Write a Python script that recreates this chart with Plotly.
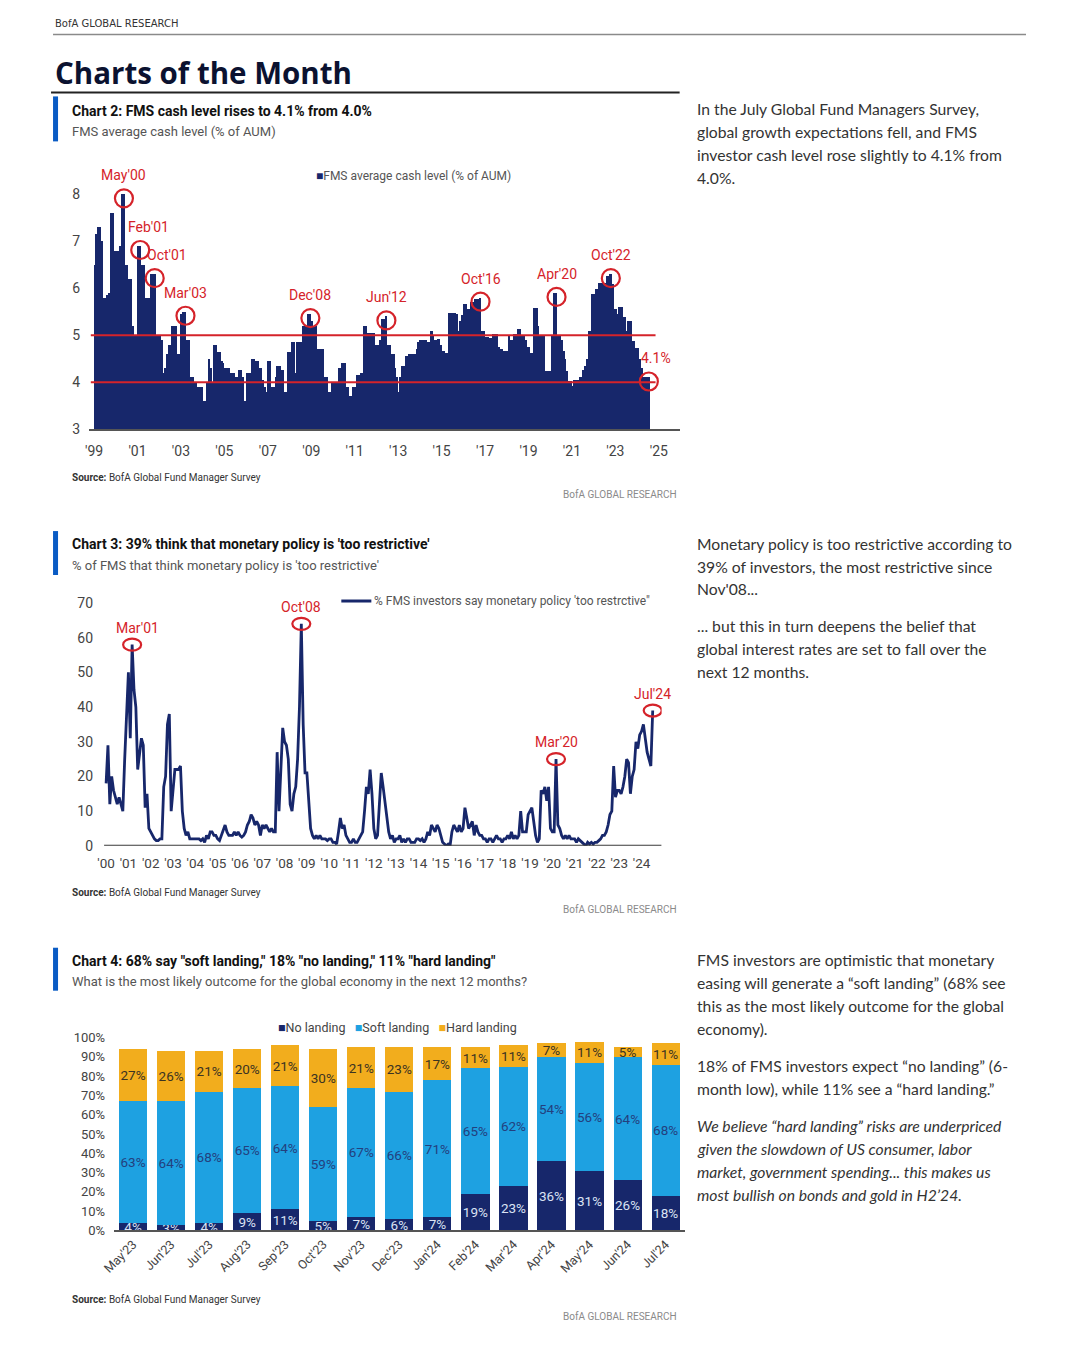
import plotly.graph_objects as go

W, H = 1080, 1354

# ---------------- Chart 2 data: FMS average cash level (% of AUM), monthly Jan'99 - Jul'24
cash_1999 = [6.5, 7.15, 7.3, 7.3, 7.0, 5.8, 5.8, 5.85, 5.9, 7.6, 7.6, 6.8]
cash_2000 = [6.8, 6.8, 6.9, 8.0, 8.0, 6.5, 6.5, 6.2, 6.2, 5.2, 5.0, 5.0]
cash_2001 = [6.9, 6.9, 6.5, 6.5, 5.8, 5.8, 5.8, 6.3, 6.3, 6.3, 5.0, 5.0]
cash_2002 = [5.0, 4.9, 4.2, 4.3, 4.6, 4.8, 4.8, 5.2, 5.2, 5.2, 4.6, 4.6]
cash_2003 = [5.45, 5.5, 5.5, 4.9, 4.9, 4.1, 4.1, 4.0, 4.0, 3.9, 3.9, 3.9]
cash_2004 = [3.6, 3.6, 4.0, 4.5, 4.3, 4.0, 4.8, 4.8, 4.65, 4.65, 4.45, 4.4]
cash_2005 = [4.3, 4.3, 4.3, 4.2, 4.2, 4.2, 4.1, 4.1, 4.25, 4.25, 4.1, 3.6]
cash_2006 = [4.2, 4.2, 4.2, 4.5, 4.5, 4.45, 4.45, 4.3, 4.3, 4.05, 3.9, 3.8]
cash_2007 = [4.45, 4.45, 3.9, 3.9, 4.1, 4.35, 4.35, 4.25, 4.25, 3.8, 3.8, 4.65]
cash_2008 = [4.65, 4.85, 4.85, 4.2, 4.85, 4.85, 4.85, 5.2, 5.2, 5.2, 5.45, 5.45]
cash_2009 = [5.3, 5.2, 5.2, 4.7, 4.7, 4.7, 4.7, 4.1, 4.1, 3.8, 3.8, 4.0]
cash_2010 = [4.0, 4.0, 4.0, 4.3, 4.3, 4.4, 4.4, 3.9, 3.9, 3.7, 3.7, 3.9]
cash_2011 = [3.9, 4.15, 4.15, 4.2, 4.2, 5.2, 5.2, 5.05, 5.05, 5.05, 5.05, 4.8]
cash_2012 = [4.8, 4.8, 4.9, 5.35, 5.35, 5.4, 4.8, 4.8, 4.6, 4.6, 4.3, 4.1]
cash_2013 = [3.8, 4.1, 4.35, 4.35, 4.55, 4.55, 4.6, 4.6, 4.6, 4.6, 4.7, 4.85]
cash_2014 = [4.9, 4.9, 4.9, 4.9, 4.85, 4.85, 5.1, 5.0, 4.9, 4.9, 4.93, 4.8]
cash_2015 = [4.66, 4.66, 4.63, 4.63, 5.47, 5.47, 5.47, 5.47, 5.45, 5.1, 5.3, 5.43]
cash_2016 = [5.66, 5.66, 5.55, 5.55, 5.7, 5.7, 5.77, 5.77, 5.77, 5.8, 5.1, 5.08]
cash_2017 = [4.96, 4.96, 4.94, 4.94, 5.03, 5.03, 5.03, 4.74, 4.7, 4.7, 4.66, 4.66]
cash_2018 = [4.66, 5.0, 4.9, 4.9, 5.03, 5.03, 5.13, 5.13, 5.0, 5.0, 4.9, 4.74]
cash_2019 = [4.74, 4.63, 4.63, 5.58, 5.58, 5.2, 5.0, 5.0, 5.0, 4.23, 4.23, 4.23]
cash_2020 = [4.23, 5.0, 5.9, 5.9, 5.0, 5.0, 4.9, 4.66, 4.5, 4.23, 4.02, 4.02]
cash_2021 = [3.92, 4.05, 4.05, 4.05, 4.12, 4.12, 4.25, 4.35, 4.5, 5.1, 5.1, 5.87]
cash_2022 = [5.87, 5.98, 5.98, 6.12, 6.12, 6.12, 6.12, 6.26, 6.26, 6.3, 6.1, 5.55]
cash_2023 = [5.55, 5.45, 5.6, 5.6, 5.38, 5.38, 5.1, 5.3, 5.3, 4.87, 4.87, 4.72]
cash_2024 = [4.72, 4.5, 4.3, 4.1, 4.1, 4.12, 4.1]
cash_by_year = [cash_1999, cash_2000, cash_2001, cash_2002, cash_2003, cash_2004,
                cash_2005, cash_2006, cash_2007, cash_2008, cash_2009, cash_2010,
                cash_2011, cash_2012, cash_2013, cash_2014, cash_2015, cash_2016,
                cash_2017, cash_2018, cash_2019, cash_2020, cash_2021, cash_2022,
                cash_2023, cash_2024]
cash_first_year = 1999
c2_ticks = list(range(1999, 2026, 2))
c2_ticktext = ["'99", "'01", "'03", "'05", "'07", "'09", "'11", "'13", "'15", "'17",
               "'19", "'21", "'23", "'25"]
c2_yticks = [3, 4, 5, 6, 7, 8]
c2_ref_levels = [5, 4]
c2_mark_labels = ["May'00", "Feb'01", "Oct'01", "Mar'03", "Dec'08", "Jun'12", "Oct'16",
                  "Apr'20", "Oct'22", "4.1%"]
c2_mark_year = [2000, 2001, 2001, 2003, 2008, 2012, 2016, 2020, 2022, 2024]
c2_mark_month = [5, 2, 10, 3, 12, 6, 10, 4, 10, 7]

# ---------------- Chart 3 data: % FMS saying monetary policy 'too restrictive', monthly Jan'00 - Jul'24
rest_2000 = [18, 29, 12, 20, 16, 14, 12, 14, 12, 10, 25, 40]
rest_2001 = [50, 31, 58, 45, 40, 22, 26, 31, 29, 11, 15, 5]
rest_2002 = [4, 3, 2, 1.5, 1.5, 2, 2, 17, 20, 35, 38, 10]
rest_2003 = [15, 22, 22, 22, 23, 10, 5, 3, 4, 2, 2, 2]
rest_2004 = [2, 2, 2, 1.5, 2, 1, 3, 2, 4, 4, 3, 3]
rest_2005 = [2, 1.5, 3, 5, 6, 4, 3, 3, 3, 4, 3, 4]
rest_2006 = [3, 2.5, 3, 4, 6, 7, 9, 8, 6, 7, 6, 3]
rest_2007 = [6, 5, 6, 5, 4, 5, 4, 4, 27, 10, 25, 34]
rest_2008 = [30, 29, 25, 12, 10, 15, 17, 25, 40, 64, 35, 21]
rest_2009 = [21, 12, 5, 3, 2, 3, 2, 3, 2, 2, 2, 1.5]
rest_2010 = [2, 2, 1, 1, 0.5, 4, 8, 5, 6, 3, 2, 1]
rest_2011 = [1, 2, 1, 1, 2, 3, 4, 10, 17, 15, 22, 15]
rest_2012 = [5, 2, 3, 12, 21, 17, 13, 8, 4, 2, 3, 1]
rest_2013 = [2, 2, 3, 1, 2, 1, 2, 2, 1, 1, 1, 2]
rest_2014 = [2, 1.5, 2, 1, 2, 4, 3, 6, 5, 4, 6, 5]
rest_2015 = [3, 1, 0.5, 0, 0.5, 0, 4, 6, 5, 4, 6, 4]
rest_2016 = [5, 11, 8, 5, 6, 7, 3, 6, 4, 3, 3, 2]
rest_2017 = [2, 1, 2, 2, 1, 2, 3, 2, 2, 1, 2, 2]
rest_2018 = [3, 2, 4, 2, 3, 2, 3, 10, 4, 4, 4, 9]
rest_2019 = [10, 11, 7, 3, 1, 2, 16, 15, 17, 13, 17, 5]
rest_2020 = [4, 4, 25, 6, 5, 3, 2, 3, 2, 3, 2, 2]
rest_2021 = [2, 1, 2, 1.5, 1, 0.5, 0, 1, 0.5, 1, 0.5, 1]
rest_2022 = [1, 1.5, 2, 3, 3, 4, 6, 9, 10, 23, 14, 16]
rest_2023 = [16, 15, 17, 20, 25, 24, 15, 20, 22, 30, 28, 32]
rest_2024 = [33, 35, 30, 27, 25, 23, 39]
rest_by_year = [rest_2000, rest_2001, rest_2002, rest_2003, rest_2004, rest_2005,
                rest_2006, rest_2007, rest_2008, rest_2009, rest_2010, rest_2011,
                rest_2012, rest_2013, rest_2014, rest_2015, rest_2016, rest_2017,
                rest_2018, rest_2019, rest_2020, rest_2021, rest_2022, rest_2023,
                rest_2024]
rest_first_year = 2000
c3_ticks = list(range(2000, 2025))
c3_ticktext = ["'%02d" % (t % 100) for t in c3_ticks]
c3_yticks = [0, 10, 20, 30, 40, 50, 60, 70]
c3_mark_labels = ["Mar'01", "Oct'08", "Mar'20", "Jul'24"]
c3_mark_year = [2001, 2008, 2020, 2024]
c3_mark_month = [3, 10, 3, 7]

# ---------------- Chart 4 data: most likely outcome for global economy
c4_months = ["May'23", "Jun'23", "Jul'23", "Aug'23", "Sep'23", "Oct'23", "Nov'23", "Dec'23",
             "Jan'24", "Feb'24", "Mar'24", "Apr'24", "May'24", "Jun'24", "Jul'24"]
no_landing = [4, 3, 4, 9, 11, 5, 7, 6, 7, 19, 23, 36, 31, 26, 18]
soft_landing = [63, 64, 68, 65, 64, 59, 67, 66, 71, 65, 62, 54, 56, 64, 68]
hard_landing = [27, 26, 21, 20, 21, 30, 21, 23, 17, 11, 11, 7, 11, 5, 11]
c4_yticks = [0, 10, 20, 30, 40, 50, 60, 70, 80, 90, 100]

# ---------------- styles
NAVY = "#17276b"
RED = "#d5232a"
SOFT = "#1ea1e1"
HARD = "#f2ad1d"
BLUEBAR = "#0a5bc4"
CF = "Roboto, sans-serif"
BF = "Lato, Noto Sans, sans-serif"
TF = "Open Sans, Noto Sans, sans-serif"

# the photographed page appears slightly inset/scaled; map target pixels to figure pixels
OX, SX = 12.0, 0.987
OY, SY = 6.5, 0.989


def px(x):
    return ((x - OX) / SX) / W


def py(y):
    return 1 - ((y - OY) / SY) / H


annotations = []
shapes = []


def txt(x, y, s, size, color, family=CF, anchor="left"):
    annotations.append(dict(x=px(x), y=py(y), xref="paper", yref="paper", text=s,
                            showarrow=False, xanchor=anchor, yanchor="middle",
                            font=dict(size=size, color=color, family=family)))


def lines(x, y0, step, rows, size=15.7, color="#333333", family=BF, italic=False):
    for i, r in enumerate(rows):
        s = "<i>" + r + "</i>" if italic else r
        txt(x, y0 + i * step, s, size, color, family)


def hline(x0, x1, y, color, width):
    shapes.append(dict(type="line", xref="paper", yref="paper", x0=px(x0), x1=px(x1),
                       y0=py(y), y1=py(y), line=dict(color=color, width=width)))


def rect(x0, x1, y0, y1, color):
    shapes.append(dict(type="rect", xref="paper", yref="paper", x0=px(x0), x1=px(x1),
                       y0=py(y1), y1=py(y0), fillcolor=color, line=dict(width=0)))


def swatch(color):
    return "<span style='color:" + color + "'>■</span>"


fig = go.Figure()

# ---- Chart 2 traces
c2_x, c2_y = [], []
for k, vals in enumerate(cash_by_year):
    for i, v in enumerate(vals):
        c2_x.append(cash_first_year + k + i / 12 + 1 / 24)
        c2_y.append(v)
fig.add_trace(go.Bar(x=c2_x, y=c2_y, width=[1 / 12] * len(c2_x),
                     marker=dict(color=NAVY, line=dict(width=0)),
                     xaxis="x", yaxis="y", hoverinfo="x+y"))

for lvl in c2_ref_levels:
    shapes.append(dict(type="line", xref="x", yref="y", x0=1998.85, x1=2024.85,
                       y0=lvl, y1=lvl, line=dict(color=RED, width=2), layer="above"))

for lab, yr, mo in zip(c2_mark_labels, c2_mark_year, c2_mark_month):
    xv = yr + (mo - 1) / 12 + 1 / 24
    yv = cash_by_year[yr - cash_first_year][mo - 1]
    shapes.append(dict(type="circle", xref="x", yref="y", xsizemode="pixel", ysizemode="pixel",
                       xanchor=xv, yanchor=yv, x0=-9, x1=9, y0=-13, y1=5,
                       line=dict(color=RED, width=2.2)))
    dx = {"Feb'01": 8, "Oct'01": 12, "4.1%": 7}.get(lab, 0)
    annotations.append(dict(x=xv, y=yv, xref="x", yref="y", text=lab, showarrow=False,
                            xanchor="center", yanchor="middle", xshift=dx, yshift=19,
                            font=dict(size=14, color=RED, family=CF)))

# ---- Chart 3 traces
c3_x, c3_y = [], []
for k, vals in enumerate(rest_by_year):
    for i, v in enumerate(vals):
        c3_x.append(rest_first_year + k + i / 12)
        c3_y.append(v)
fig.add_trace(go.Scatter(x=c3_x, y=c3_y, mode="lines", line=dict(color=NAVY, width=2.8),
                         xaxis="x2", yaxis="y2", cliponaxis=False))
shapes.append(dict(type="line", xref="x2", yref="y2", x0=1999.9, x1=2024.9, y0=0, y1=0,
                   line=dict(color="#3a3a3a", width=2)))
for lab, yr, mo in zip(c3_mark_labels, c3_mark_year, c3_mark_month):
    xv = yr + (mo - 1) / 12
    yv = rest_by_year[yr - rest_first_year][mo - 1]
    shapes.append(dict(type="circle", xref="x2", yref="y2", xsizemode="pixel", ysizemode="pixel",
                       xanchor=xv, yanchor=yv, x0=-9, x1=9, y0=-6, y1=6,
                       line=dict(color=RED, width=2.2)))
    dx = {"Mar'01": 5}.get(lab, 0)
    annotations.append(dict(x=xv, y=yv, xref="x2", yref="y2", text=lab, showarrow=False,
                            xanchor="center", yanchor="middle", xshift=dx, yshift=17,
                            font=dict(size=14, color=RED, family=CF)))

# ---- Chart 4 traces
for name, vals, col, tcol in [("No landing", no_landing, NAVY, "#dbe3f4"),
                              ("Soft landing", soft_landing, SOFT, "#23407e"),
                              ("Hard landing", hard_landing, HARD, "#3b3322")]:
    fig.add_trace(go.Bar(x=c4_months, y=vals, name=name, width=0.74,
                         marker=dict(color=col, line=dict(width=0)),
                         text=[str(v) + "%" for v in vals], textposition="inside",
                         insidetextanchor="middle", textangle=0,
                         textfont=dict(size=13.5, color=tcol, family=CF),
                         xaxis="x3", yaxis="y3"))

# ---------------- page furniture
txt(52, 22, "BofA GLOBAL RESEARCH", 10, "#333333", "DejaVu Sans, sans-serif")
hline(52, 1024, 33, "#8a8a8a", 1.5)
txt(52, 71, "<b>Charts of the Month</b>", 29.5, "#0b1230", TF)
hline(50, 678, 91, "#222222", 2)

# Chart 2 header
rect(52, 57, 95, 140, BLUEBAR)
txt(69, 110, "<b>Chart 2: FMS cash level rises to 4.1% from 4.0%</b>", 14, "#111111")
txt(69, 130, "FMS average cash level (% of AUM)", 13, "#555555")
txt(313, 175, swatch(NAVY) + "FMS average cash level (% of AUM)", 12, "#555555")
txt(69, 476, "<b>Source:</b> BofA Global Fund Manager Survey", 10, "#333333")
txt(677, 493, "BofA GLOBAL RESEARCH", 10, "#8a8a8a", anchor="right")
lines(693, 108, 23, ["In the July Global Fund Managers Survey,",
                     "global growth expectations fell, and FMS",
                     "investor cash level rose slightly to 4.1% from",
                     "4.0%."])

# Chart 3 header
rect(52, 57, 530, 574, BLUEBAR)
txt(69, 543, "<b>Chart 3: 39% think that monetary policy is 'too restrictive'</b>", 14, "#111111")
txt(69, 564, "% of FMS that think monetary policy is 'too restrictive'", 13, "#555555")
shapes.append(dict(type="line", xref="paper", yref="paper", x0=px(340), x1=px(370),
                   y0=py(600), y1=py(600), line=dict(color=NAVY, width=3)))
txt(371, 600, "% FMS investors say monetary policy 'too restrctive\"", 12, "#555555")
txt(69, 892, "<b>Source:</b> BofA Global Fund Manager Survey", 10, "#333333")
txt(677, 909, "BofA GLOBAL RESEARCH", 10, "#8a8a8a", anchor="right")
lines(693, 543, 22.5, ["Monetary policy is too restrictive according to",
                       "39% of investors, the most restrictive since",
                       "Nov'08..."])
lines(693, 625, 23, ["... but this in turn deepens the belief that",
                     "global interest rates are set to fall over the",
                     "next 12 months."])

# Chart 4 header
rect(52, 57, 947, 990, BLUEBAR)
txt(69, 960, "<b>Chart 4: 68% say \"soft landing,\" 18% \"no landing,\" 11% \"hard landing\"</b>",
    14, "#111111")
txt(69, 981, "What is the most likely outcome for the global economy in the next 12 months?",
    13, "#555555")
txt(275, 1027, swatch(NAVY) + "No landing   " + swatch(SOFT) + "Soft landing   "
    + swatch(HARD) + "Hard landing", 12.5, "#444444")
txt(69, 1299, "<b>Source:</b> BofA Global Fund Manager Survey", 10, "#333333")
txt(677, 1316, "BofA GLOBAL RESEARCH", 10, "#8a8a8a", anchor="right")
lines(693, 959, 23, ["FMS investors are optimistic that monetary",
                     "easing will generate a “soft landing” (68% see",
                     "this as the most likely outcome for the global",
                     "economy)."])
lines(693, 1065, 23, ["18% of FMS investors expect “no landing” (6-",
                      "month low), while 11% see a “hard landing.”"])
lines(693, 1125, 23, ["We believe “hard landing” risks are underpriced",
                      "given the slowdown of US consumer, labor",
                      "market, government spending... this makes us",
                      "most bullish on bonds and gold in H2’24."], italic=True)

AX = dict(showgrid=False, zeroline=False, ticks="", tickfont=dict(size=14, color="#444444", family=CF))

fig.update_layout(
    width=W, height=H, margin=dict(l=0, r=0, t=0, b=0),
    paper_bgcolor="white", plot_bgcolor="rgba(0,0,0,0)",
    barmode="stack", showlegend=False, uniformtext=dict(minsize=12, mode="show"),
    annotations=annotations, shapes=shapes,
    xaxis=dict(AX, domain=[px(88), px(678)], range=[1998.77, 2025.96], tickvals=c2_ticks,
               ticktext=c2_ticktext, showline=True, linecolor="#555555", linewidth=1.5,
               anchor="y", ticklabelstandoff=8),
    yaxis=dict(AX, domain=[py(428), py(178.9)], range=[3, 8.3], tickvals=c2_yticks,
               anchor="x", ticklabelstandoff=8),
    xaxis2=dict(AX, domain=[px(103), px(660)], range=[1999.91, 2024.9], tickvals=c3_ticks,
                ticktext=c3_ticktext, anchor="y2", ticklabelstandoff=8,
                tickfont=dict(size=13.5, color="#444444", family=CF)),
    yaxis2=dict(AX, domain=[py(845), py(602)], range=[0, 70], tickvals=c3_yticks,
                anchor="x2", ticklabelstandoff=10),
    xaxis3=dict(AX, domain=[px(113), px(683)], range=[-0.5, 14.5], tickangle=-45,
                showline=True, linecolor="#555555", linewidth=1.5, anchor="y3",
                tickfont=dict(size=12.5, color="#444444", family=CF)),
    yaxis3=dict(AX, domain=[py(1230), py(1037)], range=[0, 100], tickvals=c4_yticks,
                ticktext=[str(v) + "%" for v in c4_yticks], anchor="x3", ticklabelstandoff=8,
                tickfont=dict(size=13, color="#444444", family=CF)),
)

fig.write_html("out.html", config={"displayModeBar": False})
with open("out.html", encoding="utf-8") as f:
    html = f.read()
html = html.replace("<head>", "<head><style>html,body{margin:0;padding:0}</style>", 1)
with open("out.html", "w", encoding="utf-8") as f:
    f.write(html)
